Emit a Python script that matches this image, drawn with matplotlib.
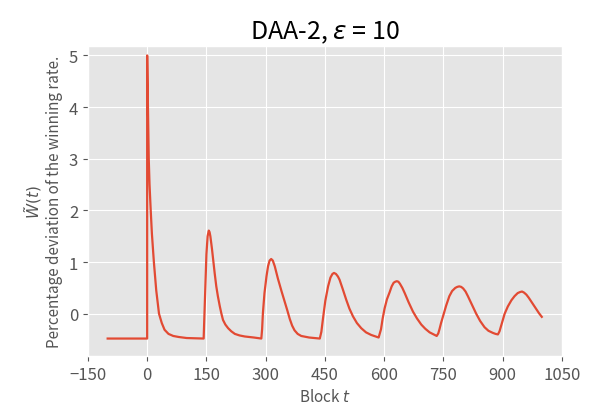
import matplotlib
matplotlib.use('Agg')
import matplotlib.pyplot as plt

# values (block, deviation)
block = [-100, -50, 0, 0,
         1, 2, 3, 4, 6, 9, 12, 17, 23, 30, 37, 44, 54, 66, 80, 100, 143,
         146, 150, 153, 156, 158, 160, 162, 164, 167, 171, 175, 179, 184, 188, 192,
         198, 205, 213, 222, 234, 247, 270, 289,
         291, 293, 297, 302, 306, 310, 314, 318, 323, 331, 340, 348, 355, 361, 367,
         373, 381, 390, 410, 437,
         441, 445, 451, 458, 464, 469, 473, 478, 483, 487, 495, 504, 512, 521, 531,
         542, 554, 567, 578, 586,
         592, 596, 601, 607, 614, 619, 624, 628, 632, 636, 640, 646, 652, 662, 673,
         683, 694, 704, 715, 725, 733,
         737, 740, 744, 749, 757, 765, 772, 780, 785, 790, 795, 800, 806, 812, 822,
         833, 843, 854, 864, 875, 882, 888,
         892, 898, 905, 913, 922, 930, 938, 944, 949, 954, 960, 966, 972, 979, 985,
         992, 999]
deviation = [-0.48, -0.48, -0.48, 5.0,
             4.5, 4.0, 3.5, 3.0, 2.5, 2.0, 1.55, 1.0, 0.45, 0.0, -0.18, -0.31, -0.39,
             -0.43, -0.45, -0.47, -0.48,
             0.2, 1.15, 1.5, 1.61, 1.58, 1.5, 1.38, 1.26, 1.05, 0.78, 0.53, 0.34, 0.14,
             0.0, -0.12, -0.21, -0.28, -0.34, -0.39, -0.42, -0.44, -0.46, -0.48,
             -0.3, 0.01, 0.4, 0.72, 0.92, 1.03, 1.06, 1.03, 0.92, 0.68, 0.44, 0.24,
             0.06, -0.1, -0.23, -0.32, -0.39, -0.43, -0.46, -0.48,
             -0.35, -0.1, 0.25, 0.53, 0.7, 0.77, 0.79, 0.77, 0.72, 0.66, 0.48, 0.27,
             0.1, -0.05, -0.18, -0.28, -0.36, -0.41, -0.44, -0.46,
             -0.3, -0.1, 0.1, 0.28, 0.42, 0.53, 0.6, 0.62, 0.63, 0.62, 0.58, 0.5, 0.4,
             0.22, 0.04, -0.09, -0.21, -0.29, -0.36, -0.4, -0.43,
             -0.38, -0.3, -0.18, -0.05, 0.16, 0.34, 0.44, 0.5, 0.52, 0.53, 0.52, 0.49,
             0.43, 0.34, 0.18, 0.0, -0.14, -0.26, -0.33, -0.37, -0.39, -0.4,
             -0.34, -0.18, 0.0, 0.14, 0.26, 0.34, 0.4, 0.42, 0.43, 0.41, 0.37, 0.31,
             0.24, 0.16, 0.09, 0.01, -0.06]

xticks = [-150, 0, 150, 300, 450, 600, 750, 900, 1050]

plt.style.use('ggplot')
plt.rcParams['font.family'] = ['Noto Sans CJK JP', 'DejaVu Sans']

fig = plt.figure(figsize=(5.94, 4.10), dpi=100)
ax = fig.add_axes([0.148, 0.129, 0.798, 0.756])
ax.plot(block, deviation, color='#E24A33', linewidth=1.6)
ax.set_xticks(xticks)
ax.set_xlim(-150, 1050)
ax.set_ylim(-0.82, 5.18)
ax.tick_params(labelsize=12)
ax.set_title(r'DAA-2, $\varepsilon$ = 10', fontsize=18, color='black')
ax.set_xlabel(r'Block $t$', fontsize=11)
ax.set_ylabel('$\\tilde{W}(t)$\nPercentage deviation of the winning rate.', fontsize=11)

fig.savefig('out.png', dpi=100)
